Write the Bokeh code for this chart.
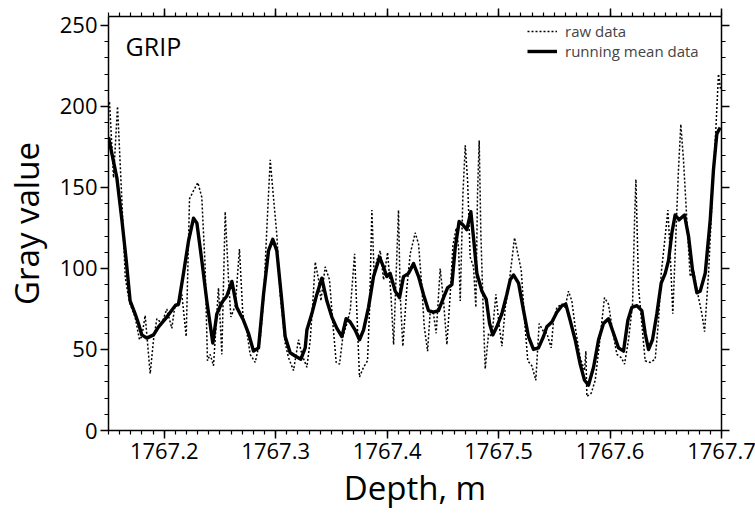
from bokeh.plotting import figure
from bokeh.models import (FixedTicker, LinearAxis, Legend, LegendItem, Label,
                          Range1d, PrintfTickFormatter, CustomLabelingPolicy)
from bokeh.embed import file_html
from bokeh.resources import INLINE

# ---- data ----
raw_depth = [
    1767.1500, 1767.1509, 1767.1545, 1767.1581, 1767.1620, 1767.1650, 1767.1670,
    1767.1694, 1767.1739, 1767.1778, 1767.1799, 1767.1829, 1767.1874, 1767.1904,
    1767.1934, 1767.1979, 1767.2023, 1767.2068, 1767.2098, 1767.2128, 1767.2158,
    1767.2197, 1767.2227, 1767.2263, 1767.2302, 1767.2337, 1767.2367, 1767.2388,
    1767.2412, 1767.2442, 1767.2487, 1767.2517, 1767.2547, 1767.2577, 1767.2598,
    1767.2637, 1767.2675, 1767.2705, 1767.2741, 1767.2771, 1767.2816, 1767.2861,
    1767.2891, 1767.2921, 1767.2951, 1767.2980, 1767.3010, 1767.3040, 1767.3085,
    1767.3115, 1767.3160, 1767.3205, 1767.3235, 1767.3280, 1767.3310, 1767.3334,
    1767.3355, 1767.3385, 1767.3406, 1767.3444, 1767.3483, 1767.3513, 1767.3543,
    1767.3573, 1767.3603, 1767.3639, 1767.3669, 1767.3708, 1767.3729, 1767.3752,
    1767.3788, 1767.3824, 1767.3842, 1767.3863, 1767.3884, 1767.3908, 1767.3938,
    1767.3968, 1767.4004, 1767.4034, 1767.4058, 1767.4102, 1767.4117, 1767.4141,
    1767.4177, 1767.4207, 1767.4252, 1767.4282, 1767.4312, 1767.4333, 1767.4363,
    1767.4387, 1767.4416, 1767.4440, 1767.4476, 1767.4506, 1767.4536, 1767.4566,
    1767.4590, 1767.4620, 1767.4641, 1767.4656, 1767.4680, 1767.4701, 1767.4722,
    1767.4745, 1767.4775, 1767.4796, 1767.4811, 1767.4826, 1767.4841, 1767.4865,
    1767.4880, 1767.4910, 1767.4940, 1767.4976, 1767.5000, 1767.5030, 1767.5060,
    1767.5089, 1767.5119, 1767.5143, 1767.5173, 1767.5203, 1767.5233, 1767.5262,
    1767.5298, 1767.5334, 1767.5364, 1767.5403, 1767.5433, 1767.5472, 1767.5493,
    1767.5523, 1767.5568, 1767.5597, 1767.5627, 1767.5657, 1767.5687, 1767.5732,
    1767.5771, 1767.5783, 1767.5792, 1767.5831, 1767.5867, 1767.5912, 1767.5950,
    1767.5986, 1767.6022, 1767.6061, 1767.6100, 1767.6130, 1767.6166, 1767.6202,
    1767.6220, 1767.6232, 1767.6256, 1767.6285, 1767.6315, 1767.6360, 1767.6405,
    1767.6435, 1767.6459, 1767.6495, 1767.6519, 1767.6540, 1767.6563, 1767.6584,
    1767.6614, 1767.6635, 1767.6659, 1767.6689, 1767.6719, 1767.6749, 1767.6788,
    1767.6824, 1767.6848, 1767.6884, 1767.6920, 1767.6950, 1767.6973, 1767.6991,
]
raw_gray = [
    201, 203, 156, 200, 142, 95, 86,
    78, 70, 56, 58, 71, 35, 56,
    69, 66, 75, 63, 78, 77, 84,
    58, 143, 148, 153, 144, 101, 43,
    47, 40, 88, 47, 135, 93, 70,
    77, 112, 72, 61, 47, 42, 56,
    80, 125, 167, 144, 121, 84, 54,
    45, 37, 56, 47, 39, 56, 80,
    104, 93, 80, 101, 93, 66, 42,
    41, 58, 66, 74, 109, 72, 33,
    39, 43, 74, 136, 95, 105, 111,
    93, 110, 84, 53, 136, 84, 52,
    88, 109, 122, 115, 88, 64, 49,
    74, 72, 60, 100, 80, 53, 84,
    114, 125, 113, 80, 146, 176, 154,
    107, 101, 76, 146, 179, 121, 68,
    38, 60, 58, 84, 68, 52, 76,
    88, 105, 119, 109, 99, 68, 43,
    40, 31, 66, 61, 60, 51, 68,
    76, 78, 76, 86, 80, 64, 45,
    37, 49, 21, 23, 31, 58, 82,
    78, 62, 47, 45, 41, 56, 78,
    130, 155, 88, 66, 43, 42, 44,
    68, 97, 120, 136, 109, 72, 109,
    161, 189, 167, 130, 95, 99, 84,
    72, 61, 97, 150, 187, 220, 211,
]

mean_depth = [
    1767.1500, 1767.1575, 1767.1620, 1767.1659, 1767.1694, 1767.1739, 1767.1769,
    1767.1799, 1767.1844, 1767.1904, 1767.1949, 1767.2023, 1767.2098, 1767.2128,
    1767.2173, 1767.2218, 1767.2263, 1767.2293, 1767.2337, 1767.2382, 1767.2436,
    1767.2472, 1767.2517, 1767.2562, 1767.2607, 1767.2651, 1767.2711, 1767.2756,
    1767.2801, 1767.2846, 1767.2891, 1767.2936, 1767.2974, 1767.3010, 1767.3055,
    1767.3085, 1767.3130, 1767.3175, 1767.3226, 1767.3265, 1767.3280, 1767.3324,
    1767.3369, 1767.3414, 1767.3459, 1767.3504, 1767.3549, 1767.3594, 1767.3632,
    1767.3668, 1767.3713, 1767.3752, 1767.3788, 1767.3833, 1767.3878, 1767.3932,
    1767.3967, 1767.3997, 1767.4027, 1767.4072, 1767.4111, 1767.4147, 1767.4192,
    1767.4237, 1767.4282, 1767.4326, 1767.4371, 1767.4416, 1767.4461, 1767.4506,
    1767.4542, 1767.4581, 1767.4611, 1767.4646, 1767.4679, 1767.4715, 1767.4751,
    1767.4775, 1767.4805, 1767.4850, 1767.4889, 1767.4919, 1767.4948, 1767.4984,
    1767.5029, 1767.5074, 1767.5104, 1767.5134, 1767.5179, 1767.5224, 1767.5268,
    1767.5313, 1767.5358, 1767.5403, 1767.5433, 1767.5478, 1767.5523, 1767.5568,
    1767.5603, 1767.5642, 1767.5687, 1767.5732, 1767.5771, 1767.5807, 1767.5852,
    1767.5897, 1767.5941, 1767.5986, 1767.6031, 1767.6076, 1767.6121, 1767.6160,
    1767.6196, 1767.6241, 1767.6285, 1767.6315, 1767.6345, 1767.6381, 1767.6420,
    1767.6459, 1767.6495, 1767.6525, 1767.6555, 1767.6584, 1767.6620, 1767.6668,
    1767.6704, 1767.6740, 1767.6779, 1767.6809, 1767.6854, 1767.6899, 1767.6928,
    1767.6958, 1767.6988,
]
mean_gray = [
    181, 156, 130, 105, 80, 72, 66,
    59, 57, 59, 64, 70, 77, 78,
    97, 117, 131, 128, 105, 80, 54,
    72, 79, 83, 92, 76, 68, 60,
    49, 51, 84, 111, 118, 111, 80,
    58, 48, 46, 44, 51, 62, 72,
    84, 94, 80, 70, 63, 58, 69,
    67, 62, 56, 62, 76, 95, 107,
    101, 95, 97, 86, 82, 95, 97,
    103, 95, 84, 74, 73, 74, 82,
    88, 90, 113, 129, 127, 124, 135,
    119, 97, 86, 81, 66, 59, 64,
    72, 84, 93, 96, 91, 74, 58,
    50, 51, 58, 64, 67, 73, 77,
    78, 68, 56, 41, 31, 28, 39,
    56, 66, 69, 60, 51, 49, 68,
    76, 77, 74, 60, 50, 56, 72,
    91, 97, 105, 122, 133, 130, 133,
    120, 99, 85, 86, 97, 130, 161,
    183, 187,
]

x_major_ticks = [1767.2, 1767.3, 1767.4, 1767.5, 1767.6, 1767.7]
x_minor_ticks = [round(1767.15 + 0.01 * i, 2) for i in range(56)]
y_major_ticks = [0, 50, 100, 150, 200, 250]
y_minor_ticks = list(range(0, 256, 10))

FONT = "Open Sans"

p = figure(frame_width=613, frame_height=414,
           min_border_left=105, min_border_right=37,
           min_border_top=16, min_border_bottom=84,
           x_range=Range1d(1767.15, 1767.7), y_range=Range1d(0, 255.5),
           output_backend="svg", toolbar_location=None,
           background_fill_color="white", border_fill_color="white")
p.xgrid.visible = False
p.ygrid.visible = False
p.outline_line_color = None

bottom_axis = p.below[0]
left_axis = p.left[0]

r_raw = p.line(raw_depth, raw_gray, line_color="black", line_width=1.5,
               line_dash="2 2")
r_mean = p.line(mean_depth, mean_gray, line_color="black", line_width=3.4,
                line_join="round")

no_labels = CustomLabelingPolicy(code="return []")
top_axis = LinearAxis(major_label_policy=no_labels)
right_axis = LinearAxis(major_label_policy=no_labels)
p.add_layout(top_axis, "above")
p.add_layout(right_axis, "right")

for ax in [bottom_axis, top_axis]:
    ax.ticker = FixedTicker(ticks=x_major_ticks, minor_ticks=x_minor_ticks)
    ax.formatter = PrintfTickFormatter(format="%.1f")
for ax in [left_axis, right_axis]:
    ax.ticker = FixedTicker(ticks=y_major_ticks, minor_ticks=y_minor_ticks)

for ax in [bottom_axis, top_axis, left_axis, right_axis]:
    ax.axis_line_width = 1.5
    ax.axis_line_color = "black"
    ax.major_tick_line_width = 1.5
    ax.minor_tick_line_width = 1.2
    ax.major_tick_line_color = "black"
    ax.minor_tick_line_color = "black"
    ax.major_tick_in = 0
    ax.major_tick_out = 8
    ax.minor_tick_in = 0
    ax.minor_tick_out = 4
    ax.major_label_text_font = FONT
    ax.major_label_text_font_size = "22px"
    ax.major_label_text_color = "black"

for ax in [top_axis, right_axis]:
    ax.major_label_text_font_size = "1px"
    ax.major_label_standoff = 0

bottom_axis.axis_label = "Depth, m"
left_axis.axis_label = "Gray value"
for ax in [bottom_axis, left_axis]:
    ax.axis_label_text_font = FONT
    ax.axis_label_text_font_size = "33px"
    ax.axis_label_text_font_style = "normal"
    ax.axis_label_text_color = "black"
bottom_axis.major_label_standoff = 4
bottom_axis.axis_label_standoff = 3
left_axis.major_label_standoff = 3
left_axis.axis_label_standoff = 8

legend = Legend(items=[LegendItem(label="raw data", renderers=[r_raw]),
                       LegendItem(label="running mean data", renderers=[r_mean])],
                location=(419, 369), border_line_color=None,
                background_fill_alpha=0, label_text_font=FONT,
                label_text_font_size="15px", glyph_width=30, glyph_height=14,
                label_height=14, spacing=0, padding=4, margin=0,
                label_standoff=8)
p.add_layout(legend)

p.add_layout(Label(x=1767.1653, y=237.5, text="GRIP", text_font=FONT,
                   text_font_size="25px", text_color="black",
                   text_baseline="alphabetic"))

open("out.html", "w").write(file_html(p, INLINE))
